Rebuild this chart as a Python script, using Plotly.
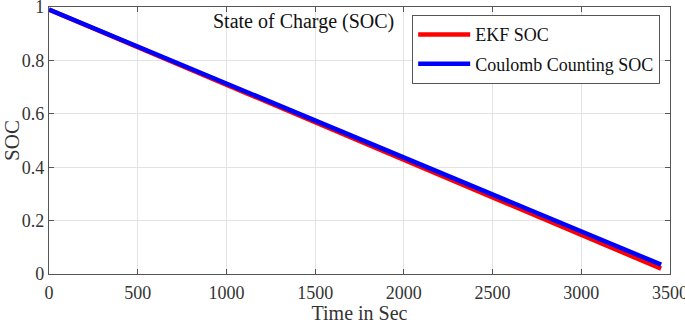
import plotly.graph_objects as go

time_s = [0, 500, 1000, 1500, 2000, 2500, 3000, 3450]
ekf_soc = [0.990, 0.849, 0.709, 0.568, 0.428, 0.287, 0.147, 0.020]
cc_soc = [0.990, 0.852, 0.713, 0.575, 0.436, 0.298, 0.160, 0.035]

x_ticks = [0, 500, 1000, 1500, 2000, 2500, 3000, 3500]
y_ticks = [0, 0.2, 0.4, 0.6, 0.8, 1]
y_tick_labels = ["0", "0.2", "0.4", "0.6", "0.8", "1"]

FONT = "Liberation Serif"

fig = go.Figure()
fig.add_trace(go.Scatter(x=time_s, y=ekf_soc, mode="lines", name="EKF SOC",
                         line=dict(color="#ff0000", width=4.5), legendgroup="a"))
fig.add_trace(go.Scatter(x=time_s, y=cc_soc, mode="lines", name="Coulomb Counting SOC",
                         line=dict(color="#0000ff", width=4.5), legendgroup="b"))

axis_common = dict(
    showline=True, linecolor="#555555", linewidth=1.2, mirror="ticks",
    ticks="inside", ticklen=5, tickcolor="#555555",
    showgrid=True, gridcolor="#e3e3e3", gridwidth=1, zeroline=False,
    tickfont=dict(family=FONT, size=18, color="#333333"),
    ticklabeloverflow="allow", automargin=False,
)

fig.update_xaxes(range=[0, 3500], tickvals=x_ticks, **axis_common, ticklabelstandoff=2,
                 title=dict(text="Time in Sec", font=dict(family=FONT, size=20, color="#333333"), standoff=0))
fig.update_yaxes(range=[0, 1], tickvals=y_ticks, ticktext=y_tick_labels, **axis_common,
                 title=dict(text="SOC", font=dict(family=FONT, size=21, color="#333333"), standoff=0))

fig.add_annotation(text="State of Charge (SOC)", xref="paper", yref="paper",
                   x=0.4106, y=0.944, xanchor="center", yanchor="middle", showarrow=False,
                   font=dict(family=FONT, size=20, color="#111111"))

fig.update_layout(
    width=685, height=324,
    margin=dict(l=49, r=15, t=7, b=50),
    paper_bgcolor="white", plot_bgcolor="white",
    showlegend=True,
    legend=dict(x=0.5845, y=0.970, xanchor="left", yanchor="top",
                bgcolor="white", bordercolor="#555555", borderwidth=1.2,
                font=dict(family=FONT, size=18, color="#111111"),
                tracegroupgap=3, traceorder="grouped", itemwidth=52),
)

fig.write_html("out.html", config={"displayModeBar": False},
               post_script="document.body.style.margin='0';document.body.style.padding='0';")
